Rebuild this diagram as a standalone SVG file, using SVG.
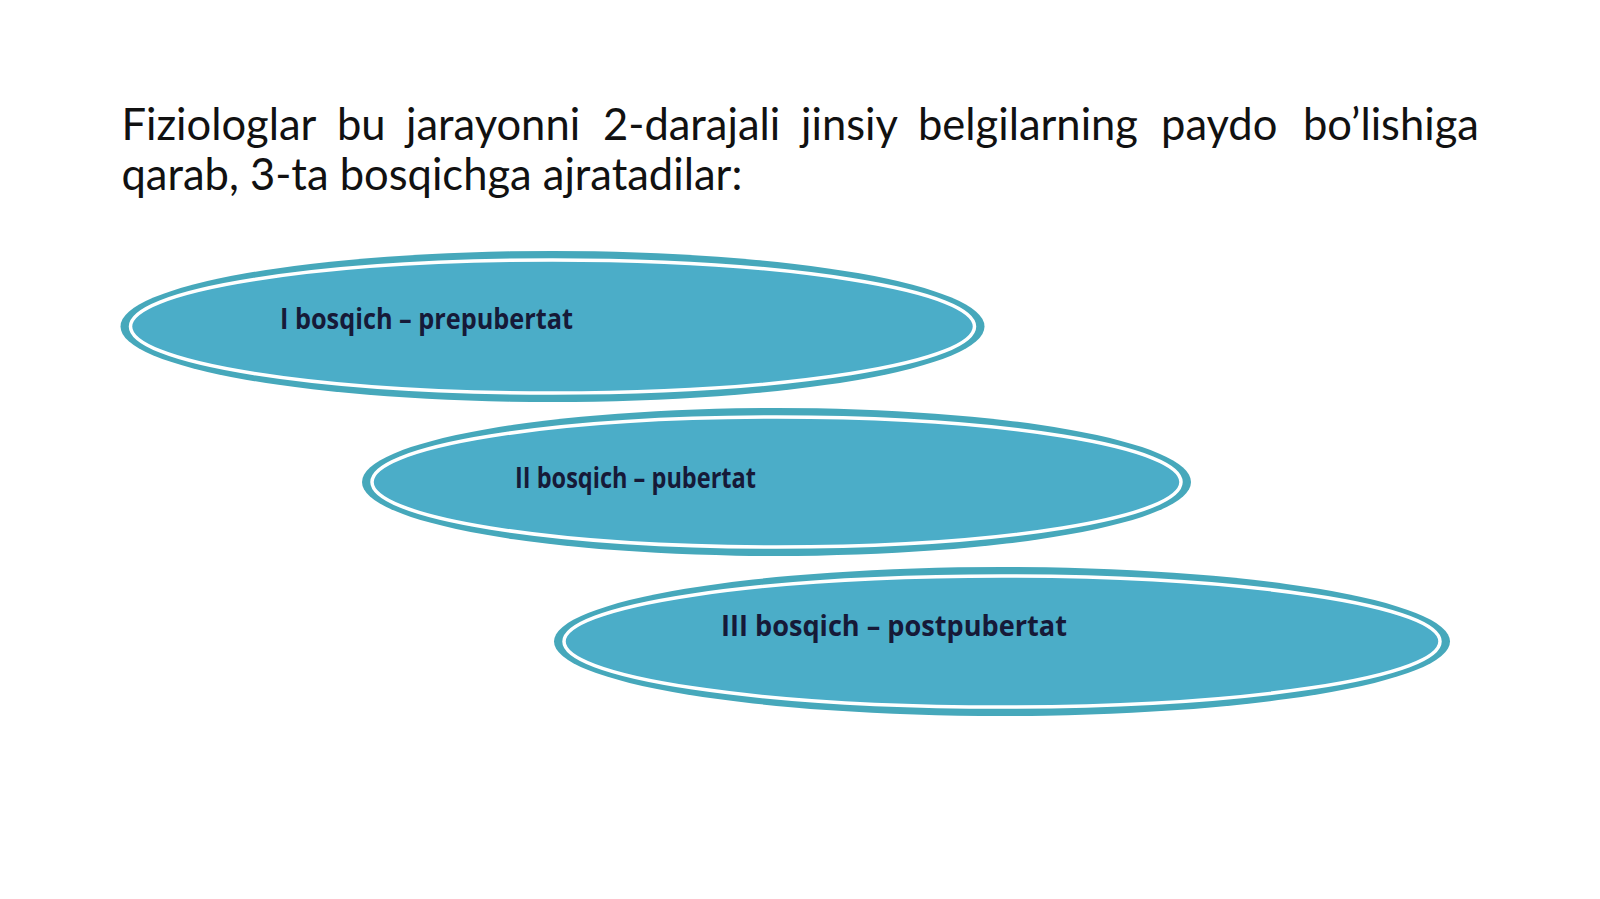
<svg xmlns="http://www.w3.org/2000/svg" width="1600" height="899" viewBox="0 0 1600 899">
<style>
.title{font-family:Lato,"Liberation Sans",sans-serif;font-size:43.5px;fill:#111}
.outer{fill:#46a8bb}
.inner{fill:#4badc8;stroke:#fff;stroke-width:3.5}
.lbl{font-family:"Open Sans","Liberation Sans",sans-serif;font-weight:bold;font-size:28px;fill:#161a38}
</style>
<rect width="1600" height="899" fill="#fff"/>
<g id="title">
<text class="title" y="140"><tspan x="121.5">Fiziologlar</tspan><tspan x="337">bu</tspan><tspan x="406">jarayonni</tspan><tspan x="603">2-darajali</tspan><tspan x="801">jinsiy</tspan><tspan x="918">belgilarning</tspan><tspan x="1161">paydo</tspan><tspan x="1303">bo’lishiga</tspan></text>
<text class="title" x="121.5" y="190">qarab, 3-ta bosqichga ajratadilar:</text>
</g>
<g id="stage1">
<ellipse class="outer" cx="552.5" cy="326.5" rx="432" ry="75.5"/>
<ellipse class="inner" cx="552.5" cy="326.5" rx="422" ry="66.5"/>
<text class="lbl" x="280" y="329" textLength="293" lengthAdjust="spacingAndGlyphs">I bosqich – prepubertat</text>
</g>
<g id="stage2">
<ellipse class="outer" cx="776.5" cy="482" rx="414.5" ry="74"/>
<ellipse class="inner" cx="776.5" cy="482" rx="404.5" ry="65"/>
<text class="lbl" x="515" y="488" textLength="241" lengthAdjust="spacingAndGlyphs">II bosqich – pubertat</text>
</g>
<g id="stage3">
<ellipse class="outer" cx="1002" cy="641.5" rx="448" ry="74.5"/>
<ellipse class="inner" cx="1002" cy="641.5" rx="438" ry="65.5"/>
<text class="lbl" x="721" y="636" textLength="346" lengthAdjust="spacingAndGlyphs">III bosqich – postpubertat</text>
</g>
<g id="connectors"></g>
</svg>
